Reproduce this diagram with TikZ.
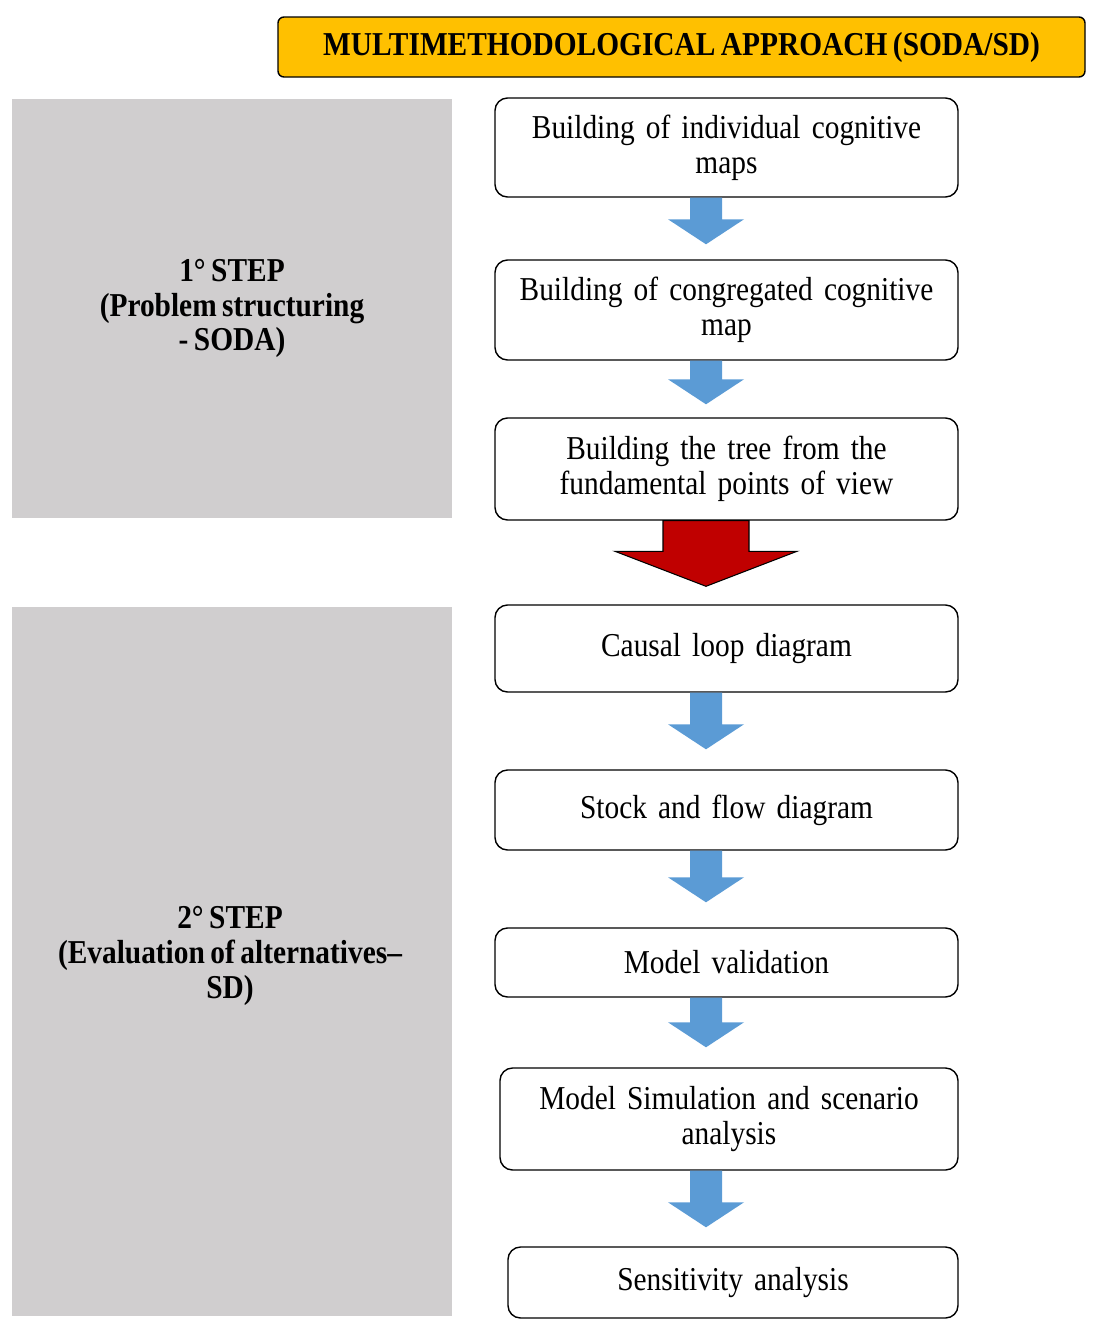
\documentclass[tikz,border=0pt]{standalone}
\usepackage{fontspec}
\setmainfont{Liberation Serif}[FakeStretch=0.88, WordSpace=0.75]
\usetikzlibrary{calc}
\definecolor{banner}{HTML}{FFC000}
\definecolor{harmaa}{HTML}{D0CECF}
\definecolor{sininen}{HTML}{5B9BD5}
\definecolor{punainen}{HTML}{C00000}

\begin{document}
\begin{tikzpicture}[font=\fontsize{19}{19.8}\selectfont,
  laatikko/.style={draw, rounded corners=0.25cm, line width=0.8pt, align=center, text width=8.5cm},
  vaihe/.style={fill=harmaa, font=\fontsize{19}{19.8}\selectfont\bfseries, align=center}]
\useasboundingbox (0,0) rectangle (22.28,-26.66);
\newcommand\nuoli[4]{
\coordinate (s) at (akseli |- #1.south);
\coordinate (t) at ($(akseli |- #2.north)+(0,#4)$);
\path[fill=#3] ($(s)+(-0.32,0)$) -- ($(s)+(0.32,0)$) -- ($(t)+(0.32,0.5)$) -- ($(t)+(0.76,0.5)$)
  -- (t) -- ($(t)+(-0.76,0.5)$) -- ($(t)+(-0.32,0.5)$) -- cycle;
}
\coordinate (akseli) at (14.12,0);
\node[draw, fill=banner, rounded corners=0.12cm, line width=0.8pt, minimum width=16.14cm, minimum height=1.2cm,
  font=\fontsize{19}{19.8}\selectfont\bfseries] (otsikko) at (13.63,-0.94) {MULTIMETHODOLOGICAL APPROACH (SODA/SD)};
\node[vaihe, minimum width=8.8cm, minimum height=8.38cm] (soda) at (4.64,-6.17) {1° STEP\\(Problem structuring\\- SODA)};
\node[vaihe, minimum width=8.8cm, minimum height=14.18cm] (sd) at (4.64,-19.23) {};
\node[font=\fontsize{19}{19.8}\selectfont\bfseries, align=center] at (4.6,-19.12) {2° STEP\\(Evaluation of alternatives–\\SD)};
\node[laatikko, minimum width=9.26cm, minimum height=1.98cm] (1) at (14.53,-2.95) {Building of individual cognitive\\maps};
\node[laatikko, minimum width=9.26cm, minimum height=2.0cm] (2) at (14.53,-6.2) {Building of congregated cognitive\\map};
\node[laatikko, minimum width=9.26cm, minimum height=2.04cm] (3) at (14.53,-9.38) {Building the tree from the\\fundamental points of view};
\node[laatikko, minimum width=9.26cm, minimum height=1.74cm] (4) at (14.53,-12.97) {Causal loop diagram};
\node[laatikko, minimum width=9.26cm, minimum height=1.6cm] (5) at (14.53,-16.2) {Stock and flow diagram};
\node[laatikko, minimum width=9.26cm, minimum height=1.38cm] (6) at (14.53,-19.25) {Model validation};
\node[laatikko, minimum width=9.16cm, minimum height=2.04cm] (7) at (14.58,-22.38) {Model Simulation and scenario\\analysis};
\node[laatikko, minimum width=9.0cm, minimum height=1.42cm] (8) at (14.66,-25.65) {Sensitivity analysis};
\nuoli{1}{2}{sininen}{0.3}
\nuoli{2}{3}{sininen}{0.26}
\nuoli{4}{5}{sininen}{0.4}
\nuoli{5}{6}{sininen}{0.5}
\nuoli{6}{7}{sininen}{0.4}
\nuoli{7}{8}{sininen}{0.38}
% punainen nuoli vaiheiden valissa
\coordinate (s) at (akseli |- 3.south);
\coordinate (t) at ($(akseli |- 4.north)+(0,0.36)$);
\path[draw=black, line width=0.6pt, fill=punainen] ($(s)+(-0.86,0)$) -- ($(s)+(0.86,0)$) -- ($(t)+(0.86,0.7)$)
  -- ($(t)+(1.82,0.7)$) -- (t) -- ($(t)+(-1.82,0.7)$) -- ($(t)+(-0.86,0.7)$) -- cycle;
\end{tikzpicture}
\end{document}
